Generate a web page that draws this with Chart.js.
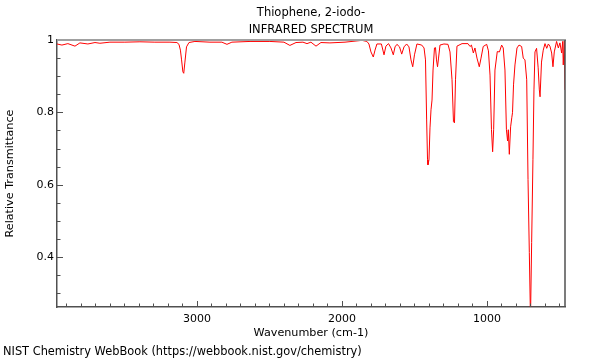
<!DOCTYPE html>
<html>
<head>
<meta charset="utf-8">
<script src="https://cdn.jsdelivr.net/npm/chart.js@4/dist/chart.umd.min.js"></script>
<style>
  html, body { margin: 0; padding: 0; background: #fff; }
  canvas { display: block; }
</style>
</head>
<body>
<canvas id="c" width="600" height="360"></canvas>
<script>
const titleLines = ["Thiophene, 2-iodo-", "INFRARED SPECTRUM"];
const xAxisTitle = "Wavenumber (cm-1)";
const yAxisTitle = "Relative Transmittance";
const footerText = "NIST Chemistry WebBook (https://webbook.nist.gov/chemistry)";

const xTickValues = [1000, 2000, 3000];
const yTickValues = [0.4, 0.6, 0.8, 1];

const wavenumbers = [
  3965, 3931, 3890, 3841, 3807, 3752, 3703, 3669, 3600, 3497, 3393, 3290, 3186, 3138, 3124, 3114,
  3106, 3097, 3091, 3083, 3072, 3055, 3014, 2910, 2828, 2793, 2759, 2634, 2497, 2400, 2359, 2317,
  2269, 2241, 2214, 2179, 2145, 2083, 1979, 1862, 1828, 1814, 1800, 1784, 1772, 1759, 1728, 1710,
  1697, 1679, 1662, 1646, 1634, 1621, 1603, 1588, 1572, 1554, 1538, 1524, 1512, 1500, 1483, 1450,
  1434, 1424, 1416, 1410, 1407, 1400, 1393, 1386, 1379, 1372, 1362, 1355, 1348, 1341, 1334, 1324,
  1297, 1269, 1255, 1241, 1231, 1224, 1217, 1207, 1172, 1131, 1117, 1107, 1094, 1083, 1069, 1053,
  1041, 1026, 1002, 990, 979, 969, 961, 954, 945, 929, 914, 899, 888, 876, 866, 858,
  853, 846, 837, 829, 824, 817, 807, 793, 779, 761, 750, 738, 726, 717, 708, 700,
  692, 683, 676, 669, 658, 647, 639, 634, 624, 612, 600, 588, 577, 566, 554, 545,
  536, 520, 508, 497, 485, 478, 474, 467, 462
];
const transmittance = [
  0.989, 0.986, 0.990, 0.983, 0.992, 0.989, 0.993, 0.991, 0.994, 0.994, 0.995, 0.994, 0.994, 0.993, 0.988, 0.972,
  0.945, 0.912, 0.908, 0.939, 0.981, 0.993, 0.996, 0.994, 0.994, 0.988, 0.994, 0.996, 0.996, 0.994, 0.985, 0.993,
  0.994, 0.990, 0.994, 0.983, 0.993, 0.992, 0.994, 0.999, 0.996, 0.989, 0.967, 0.953, 0.972, 0.989, 0.989, 0.959,
  0.983, 0.990, 0.978, 0.959, 0.981, 0.988, 0.981, 0.961, 0.981, 0.989, 0.981, 0.945, 0.926, 0.959, 0.989, 0.986,
  0.978, 0.945, 0.779, 0.669, 0.655, 0.669, 0.757, 0.807, 0.834, 0.917, 0.978, 0.979, 0.945, 0.926, 0.950, 0.986,
  0.989, 0.988, 0.967, 0.890, 0.774, 0.771, 0.890, 0.983, 0.990, 0.990, 0.982, 0.986, 0.964, 0.978, 0.950, 0.926,
  0.950, 0.982, 0.988, 0.970, 0.903, 0.752, 0.691, 0.752, 0.917, 0.968, 0.967, 0.986, 0.978, 0.917, 0.752, 0.721,
  0.752, 0.684, 0.760, 0.785, 0.799, 0.876, 0.931, 0.978, 0.986, 0.982, 0.950, 0.945, 0.890, 0.614, 0.413, 0.228,
  0.440, 0.669, 0.862, 0.967, 0.977, 0.923, 0.862, 0.843, 0.939, 0.972, 0.990, 0.977, 0.989, 0.983, 0.964, 0.926,
  0.967, 0.996, 0.978, 0.992, 0.964, 0.996, 0.931, 0.999, 0.862
];

const FONT = "'DejaVu Sans', sans-serif";
const TEXT_COLOR = '#000000';
const AXIS_COLOR = '#505050';

const points = wavenumbers.map((w, i) => ({ x: w, y: transmittance[i] }));

const framePlugin = {
  id: 'frame',
  afterDatasetsDraw(chart) {
    const ctx = chart.ctx;
    const a = chart.chartArea;
    const xs = chart.scales.x, ys = chart.scales.y;
    ctx.save();
    ctx.strokeStyle = '#a0a0a0';
    ctx.lineWidth = 2;
    ctx.beginPath();
    ctx.moveTo(a.left, a.top);
    ctx.lineTo(a.right + 1, a.top);
    ctx.stroke();
    ctx.strokeStyle = AXIS_COLOR;
    ctx.lineWidth = 1.5;
    ctx.beginPath();
    ctx.moveTo(a.right, a.top);
    ctx.lineTo(a.right, a.bottom);
    ctx.stroke();
    ctx.lineWidth = 1;
    ctx.strokeStyle = AXIS_COLOR;
    for (let v = 500; v <= 3900; v += 100) {
      const px = Math.round(xs.getPixelForValue(v)) + 0.5;
      const major = v % 1000 === 0;
      const len = major ? 6 : 3.5;
      ctx.beginPath();
      ctx.moveTo(px, a.bottom);
      ctx.lineTo(px, a.bottom - len);
      ctx.stroke();
    }
    for (let k = 6; k <= 19; k++) {
      const v = k * 0.05;
      const py = Math.round(ys.getPixelForValue(v)) + 0.5;
      const major = k % 4 === 0;
      const len = major ? 6 : 3.5;
      ctx.beginPath();
      ctx.moveTo(a.left, py);
      ctx.lineTo(a.left + len, py);
      ctx.stroke();
    }
    ctx.restore();
  },
  afterDraw(chart) {
    const ctx = chart.ctx;
    const a = chart.chartArea;
    const cx = (a.left + a.right) / 2;
    ctx.save();
    ctx.fillStyle = TEXT_COLOR;
    ctx.textAlign = 'center';
    ctx.textBaseline = 'middle';
    ctx.font = "11.5px " + FONT;
    ctx.fillText(titleLines[0], cx, 13);
    ctx.fillText(titleLines[1], cx, 30);
    ctx.font = "11.2px " + FONT;
    ctx.fillText(xAxisTitle, cx, 333);
    ctx.save();
    ctx.translate(10, (a.top + a.bottom) / 2);
    ctx.rotate(-Math.PI / 2);
    ctx.fillText(yAxisTitle, 0, 0);
    ctx.restore();
    ctx.textAlign = 'left';
    ctx.font = "11.4px " + FONT;
    ctx.fillText(footerText, 3, 352);
    ctx.restore();
  }
};

new Chart(document.getElementById('c'), {
  type: 'line',
  data: {
    datasets: [{
      data: points,
      borderColor: '#ff0000',
      borderWidth: 1,
      pointRadius: 0,
      tension: 0,
      fill: false
    }]
  },
  options: {
    responsive: false,
    animation: false,
    events: [],
    layout: { padding: { left: 0, top: 40, right: 35, bottom: 0 } },
    plugins: { legend: { display: false }, tooltip: { enabled: false }, title: { display: false } },
    scales: {
      x: {
        type: 'linear',
        reverse: true,
        min: 462,
        max: 3965,
        afterFit(s) { s.height = 53; },
        afterBuildTicks(s) { s.ticks = xTickValues.map(v => ({ value: v })); },
        ticks: {
          callback: v => String(v),
          font: { family: FONT, size: 11 },
          color: TEXT_COLOR,
          padding: 6,
          maxRotation: 0,
          autoSkip: false
        },
        grid: { display: false, drawTicks: false },
        border: { display: true, color: AXIS_COLOR, width: 1.5 }
      },
      y: {
        type: 'linear',
        min: 0.262,
        max: 1.0,
        afterFit(s) { s.width = 57; },
        afterBuildTicks(s) { s.ticks = yTickValues.map(v => ({ value: v })); },
        ticks: {
          callback: v => String(v),
          font: { family: FONT, size: 11 },
          color: TEXT_COLOR,
          padding: 3,
          autoSkip: false
        },
        grid: { display: false, drawTicks: false },
        border: { display: true, color: AXIS_COLOR, width: 1.5 }
      }
    }
  },
  plugins: [framePlugin]
});
</script>
</body>
</html>
